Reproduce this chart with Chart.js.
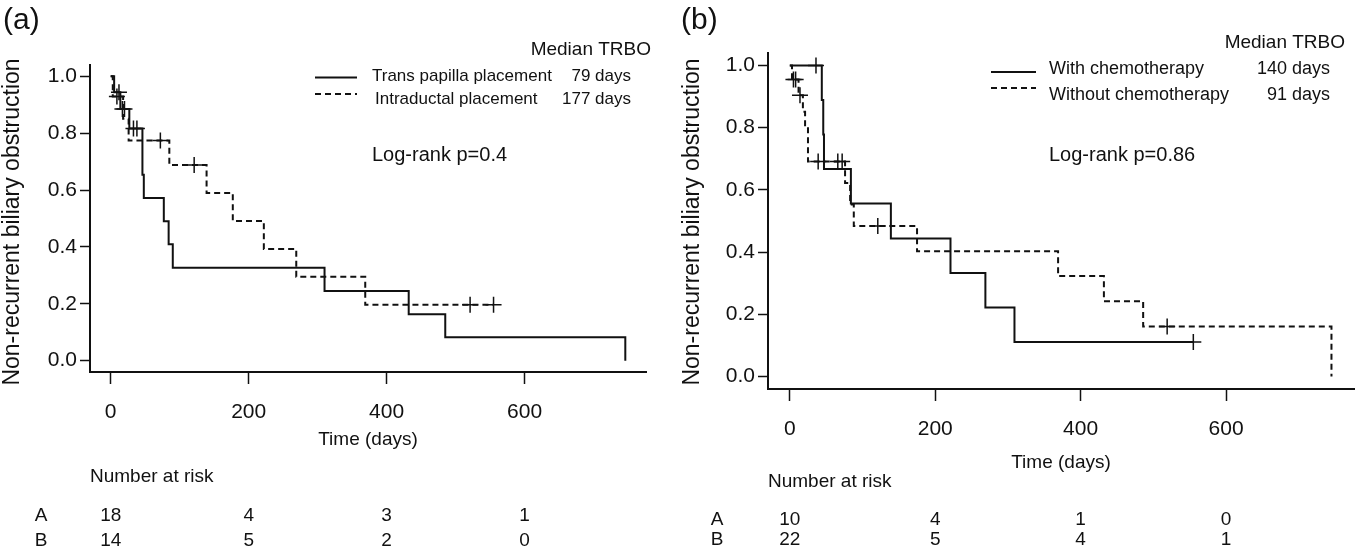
<!DOCTYPE html>
<html>
<head>
<meta charset="utf-8">
<script src="https://cdn.jsdelivr.net/npm/chart.js@4.4.1/dist/chart.umd.min.js"></script>
<style>
html, body { margin: 0; padding: 0; background: #fff; }
#wrap { position: relative; width: 1356px; height: 550px; }
canvas { position: absolute; top: 0; }
#ca { left: 0; }
#cb { left: 678px; }
</style>
</head>
<body>
<div id="wrap">
	<canvas id="ca" width="678" height="550"></canvas>
	<canvas id="cb" width="678" height="550"></canvas>
</div>
<script>
'use strict';

// ---- data ----
// panel (a): A = trans papilla (solid), B = intraductal (dashed)
const timeA1 = [0, 5, 14, 27, 46, 48, 77, 84, 90, 310, 432, 485, 746]
const survA1 = [1, 0.944, 0.885, 0.817, 0.654, 0.572, 0.490, 0.409, 0.327, 0.245, 0.163, 0.082, 0]
const censTimeA1 = [12, 17, 20, 33, 38]
const censSurvA1 = [0.944, 0.885, 0.885, 0.817, 0.817]

const timeA2 = [0, 3, 18, 26, 85, 139, 177, 222, 269, 369, 555]
const survA2 = [1, 0.929, 0.851, 0.774, 0.688, 0.590, 0.491, 0.393, 0.295, 0.197, 0.197]
const censTimeA2 = [9, 72, 121, 521, 555]
const censSurvA2 = [0.929, 0.774, 0.688, 0.197, 0.197]

// panel (b): A = with chemo (solid), B = without chemo (dashed)
const timeB1 = [0, 44, 46, 47, 84, 139, 221, 269, 309, 555]
const survB1 = [1, 0.889, 0.778, 0.667, 0.556, 0.444, 0.333, 0.222, 0.111, 0.111]
const censTimeB1 = [36, 555]
const censSurvB1 = [1, 0.111]

const timeB2 = [0, 3, 12, 18, 21, 25, 76, 83, 88, 175, 369, 432, 486, 745]
const survB2 = [1, 0.955, 0.904, 0.851, 0.798, 0.691, 0.622, 0.553, 0.484, 0.403, 0.323, 0.242, 0.161, 0]
const censTimeB2 = [5, 8, 14, 39, 66, 72, 121, 519]
const censSurvB2 = [0.955, 0.955, 0.904, 0.691, 0.691, 0.691, 0.484, 0.161]

const xTicks = [0, 200, 400, 600]
const yTicks = [0, 0.2, 0.4, 0.6, 0.8, 1.0]

const legendA = ['Trans papilla placement', 'Intraductal placement']
const medianA = ['79 days', '177 days']
const legendB = ['With chemotherapy', 'Without chemotherapy']
const medianB = ['140 days', '91 days']
const pValA = 'Log-rank p=0.4'
const pValB = 'Log-rank p=0.86'

const riskRows = ['A', 'B']
const riskA = [[18, 4, 3, 1], [14, 5, 2, 0]]
const riskB = [[10, 4, 1, 0], [22, 5, 4, 1]]

// ---- drawing ----
const INK = '#111'
const FONT = '"Liberation Sans", Arial, sans-serif'

function pts(ts, ss) {
	return ts.map((t, i) => ({x: t, y: ss[i]}))
}

// text, legend and risk table, laid out per panel
function textPlugin(p) {
	return {
		id: 'texts',
		afterDraw(chart) {
			const ctx = chart.ctx
			const area = chart.chartArea
			const xs = chart.scales.x
			ctx.save()
			ctx.fillStyle = INK
			ctx.strokeStyle = INK
			ctx.textBaseline = 'middle'

			ctx.font = '30px ' + FONT
			ctx.textAlign = 'left'
			ctx.fillText(p.tag, p.tagX, 21)

			// y title
			ctx.save()
			ctx.translate(p.yTitleX, 222)
			ctx.rotate(-Math.PI / 2)
			ctx.textAlign = 'center'
			ctx.font = '23px ' + FONT
			ctx.fillText('Non-recurrent biliary obstruction', 0, 0)
			ctx.restore()

			ctx.font = '19px ' + FONT
			ctx.textAlign = 'right'
			ctx.fillText('Median TRBO', p.medX, p.medY)

			ctx.font = p.legFont + 'px ' + FONT
			for (let i = 0; i < 2; i++) {
				ctx.lineWidth = 2
				ctx.setLineDash(i ? [6, 4] : [])
				ctx.beginPath()
				ctx.moveTo(p.sampleX[0], p.sampleY[i])
				ctx.lineTo(p.sampleX[1], p.sampleY[i])
				ctx.stroke()
				ctx.setLineDash([])
				ctx.textAlign = 'left'
				ctx.fillText(p.legend[i], p.legX[i], p.legY[i])
				ctx.textAlign = 'right'
				ctx.fillText(p.median[i], p.daysX, p.legY[i])
			}

			ctx.font = '20px ' + FONT
			ctx.textAlign = 'left'
			ctx.fillText(p.pval, p.legX[0], 155)

			ctx.textAlign = 'center'
			ctx.font = '19px ' + FONT
			ctx.fillText('Time (days)', (area.left + area.right) / 2, p.timeY)

			ctx.textAlign = 'left'
			ctx.fillText('Number at risk', area.left, p.nrY)
			for (let r = 0; r < 2; r++) {
				ctx.textAlign = 'center'
				ctx.fillText(riskRows[r], p.rowX, p.rowY[r])
				p.risk[r].forEach((n, j) => {
					ctx.fillText(String(n), xs.getPixelForValue(xTicks[j]), p.rowY[r])
				})
			}
			ctx.restore()
		}
	}
}

function makeChart(id, sets, pad, p) {
	const line = (d, dash) => ({
		type: 'line', data: d, stepped: true, borderColor: INK, borderWidth: 2,
		borderDash: dash, pointRadius: 0, fill: false
	})
	const cens = d => ({
		type: 'scatter', data: d, pointStyle: 'cross', pointRadius: 8,
		borderColor: INK, borderWidth: 1.5, backgroundColor: INK
	})
	return new Chart(document.getElementById(id).getContext('2d'), {
		data: {datasets: [
			line(sets[0], []), line(sets[1], [6, 4]), cens(sets[2]), cens(sets[3])
		]},
		options: {
			responsive: false, animation: false, devicePixelRatio: 1,
			layout: {autoPadding: false, padding: pad},
			plugins: {legend: {display: false}, tooltip: {enabled: false}},
			scales: {
				x: {
					type: 'linear', min: -30, max: 776,
					afterBuildTicks: s => { s.ticks = xTicks.map(v => ({value: v})) },
					afterFit: s => { s.height = 60 },
					grid: {drawOnChartArea: false, tickLength: 12, tickWidth: 1.5, tickColor: INK},
					border: {display: true, color: INK, width: 2},
					ticks: {color: INK, padding: 16, maxRotation: 0, font: {family: FONT, size: 21}}
				},
				y: {
					type: 'linear', min: -0.04, max: 1.04,
					afterBuildTicks: s => { s.ticks = yTicks.map(v => ({value: v})) },
					afterFit: s => { s.width = 90 },
					grid: {drawOnChartArea: false, tickLength: 10, tickWidth: 1.5, tickColor: INK},
					border: {display: true, color: INK, width: 2},
					ticks: {color: INK, padding: 3, callback: v => v.toFixed(1), font: {family: FONT, size: 21}}
				}
			}
		},
		plugins: [textPlugin(p)]
	})
}

makeChart('ca',
	[pts(timeA1, survA1), pts(timeA2, survA2), pts(censTimeA1, censSurvA1), pts(censTimeA2, censSurvA2)],
	{left: 0, top: 65, right: 32, bottom: 118},
	{
		tag: '(a)', tagX: 3, yTitleX: 13, medX: 651, medY: 50, legFont: 17,
		sampleX: [315, 357], sampleY: [77.5, 94], legX: [372, 375], legY: [76, 99], daysX: 631,
		legend: legendA, median: medianA, pval: pValA,
		timeY: 440, nrY: 477, rowX: 41, rowY: [516, 541], risk: riskA
	})

makeChart('cb',
	[pts(timeB1, survB1), pts(timeB2, survB2), pts(censTimeB1, censSurvB1), pts(censTimeB2, censSurvB2)],
	{left: 0, top: 53, right: 2, bottom: 101},
	{
		tag: '(b)', tagX: 3, yTitleX: 15, medX: 667, medY: 43, legFont: 18,
		sampleX: [313, 358], sampleY: [72, 88], legX: [371, 371], legY: [69, 95], daysX: 652,
		legend: legendB, median: medianB, pval: pValB,
		timeY: 463, nrY: 482, rowX: 39, rowY: [520, 540], risk: riskB
	})
</script>
</body>
</html>
